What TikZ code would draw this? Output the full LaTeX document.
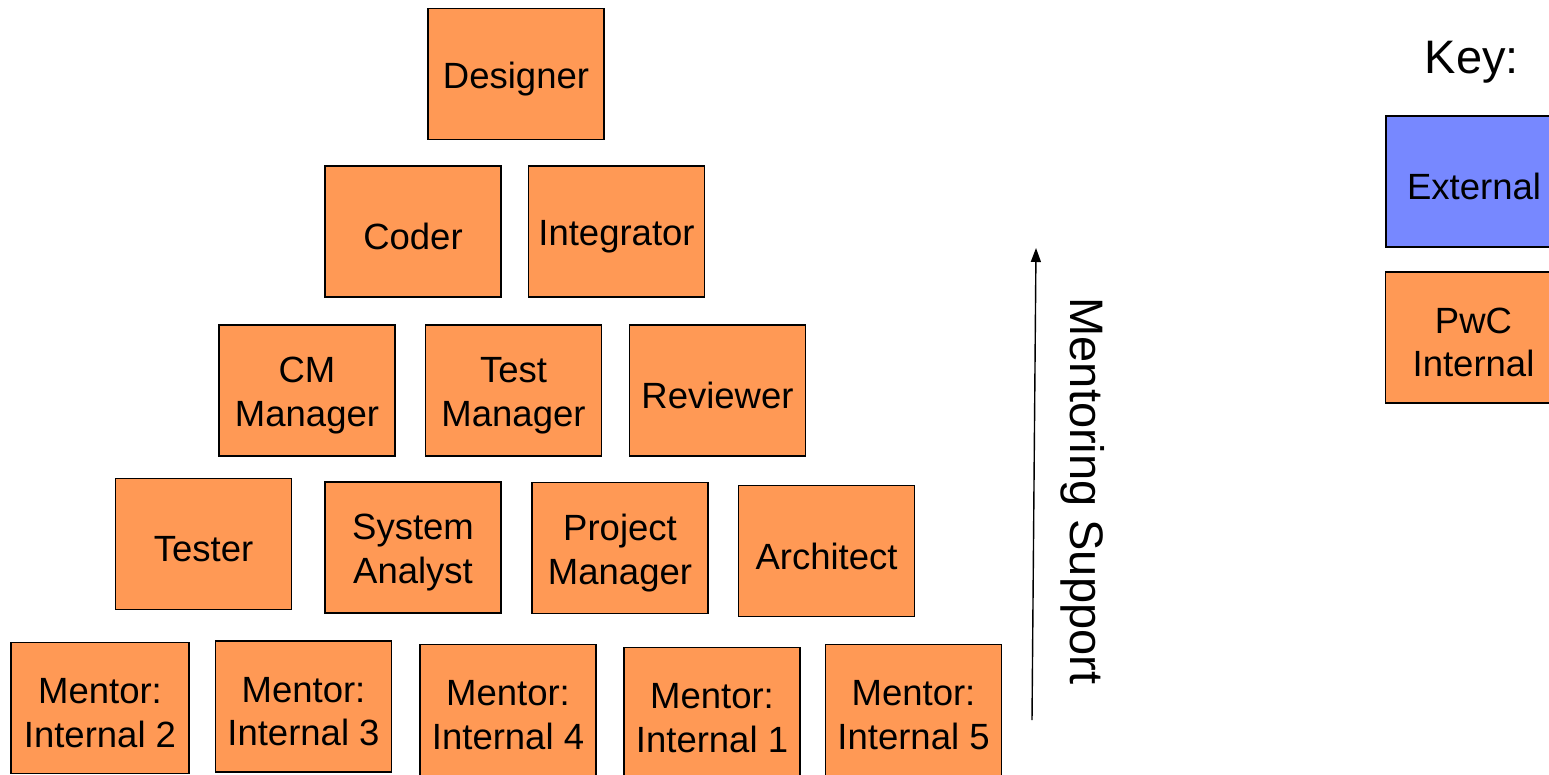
\documentclass[tikz,border=0pt]{standalone}
\usepackage{fontspec}
\setmainfont{Liberation Sans}
\usetikzlibrary{arrows.meta}
\definecolor{pwcorange}{RGB}{255,153,85}
\definecolor{extblue}{RGB}{119,136,255}
\tikzset{
  rolebox/.style={draw=black, line width=1.6pt, fill=pwcorange,
    minimum width=176pt, minimum height=131pt, inner sep=0pt},
  extbox/.style={rolebox, fill=extblue},
  roletext/.style={align=center, inner sep=0pt,
    font=\fontsize{36.5}{43.5}\selectfont},
  bigtext/.style={font=\fontsize{47}{56}\selectfont, inner sep=0pt},
  flow/.style={line width=1.4pt, -{Triangle[length=14pt,width=10pt]}}
}
% a filled box with its caption set slightly below the centre
\newcommand\rolecard[4][]{%
  \node[rolebox,#1] (#2) at (#3) {};
  \node[roletext] (#2-text) at ([yshift=-5pt]#2.center) {#4};}
\begin{document}
\begin{tikzpicture}[x=1pt,y=-1pt]
\useasboundingbox (0,0) rectangle (1549,775);
\clip (0,0) rectangle (1549,775);
\fill[white] (0,0) rectangle (1549,775);

% pyramid of roles
\rolecard{designer}{516,74}{Designer}

\rolecard{coder}{413,231.5}{Coder}
\rolecard{integrator}{616.5,231.5}{Integrator}

\rolecard{cm}{307,390.5}{CM\\Manager}
\rolecard{testmgr}{513.5,390.5}{Test\\Manager}
\rolecard{reviewer}{717.5,390.5}{Reviewer}

\rolecard{tester}{203.5,544}{Tester}
\rolecard{sysan}{413,547.5}{System\\Analyst}
\rolecard{pm}{620,548}{Project\\Manager}
\rolecard{architect}{826.5,551}{Architect}

\rolecard[minimum width=178pt]{m2}{100,708}{Mentor:\\Internal 2}
\rolecard{m3}{303.5,706.5}{Mentor:\\Internal 3}
\rolecard{m4}{508,710}{Mentor:\\Internal 4}
\rolecard{m1}{712,713}{Mentor:\\Internal 1}
\rolecard{m5}{913.5,710}{Mentor:\\Internal 5}

% direction of mentoring support
\coordinate (arrowfoot) at (1032,720);
\coordinate (arrowtip) at (1036,248);
\draw[flow] (arrowfoot) -- (arrowtip);
\node[bigtext, rotate=-90] (mentoring) at (1083,491) {Mentoring Support};

% legend
\node[bigtext] (key) at (1472,62) {Key:};
\rolecard[extbox]{external}{1474,181.5}{External}
\rolecard{internal}{1473.5,337.5}{PwC\\Internal}
\end{tikzpicture}
\end{document}
